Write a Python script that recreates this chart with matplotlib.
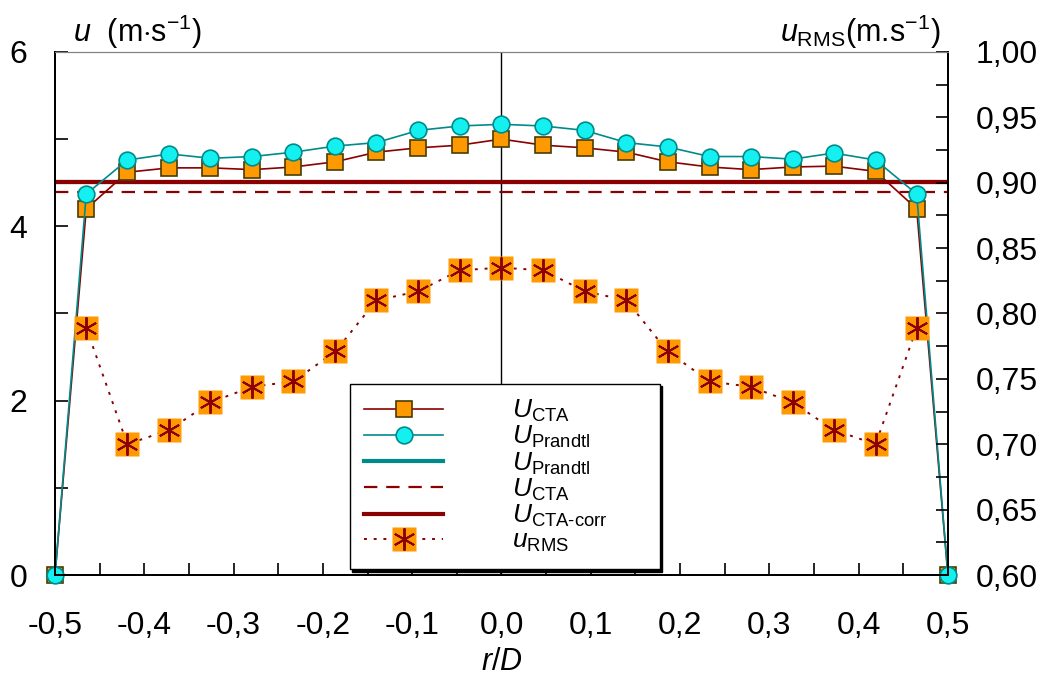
import matplotlib
matplotlib.use("Agg")
import matplotlib.pyplot as plt
from matplotlib.ticker import MultipleLocator, FuncFormatter
from matplotlib.lines import Line2D
from matplotlib.legend_handler import HandlerTuple

# Radial positions r/D of the traverse
r_d = [-0.500, -0.465, -0.419, -0.372, -0.326, -0.279, -0.233, -0.186, -0.140, -0.093, -0.047,
       0.000, 0.047, 0.093, 0.140, 0.186, 0.233, 0.279, 0.326, 0.372, 0.419, 0.465, 0.500]

# Mean velocity, hot-wire (CTA) and Prandtl tube, m/s
u_cta = [0.00, 4.20, 4.62, 4.67, 4.67, 4.65, 4.68, 4.74, 4.85, 4.90, 4.93,
         5.00, 4.93, 4.90, 4.85, 4.74, 4.68, 4.65, 4.68, 4.69, 4.63, 4.20, 0.00]
u_prandtl = [0.00, 4.37, 4.76, 4.83, 4.78, 4.80, 4.85, 4.92, 4.96, 5.10, 5.15,
             5.17, 5.15, 5.10, 4.96, 4.91, 4.80, 4.80, 4.77, 4.84, 4.76, 4.37, 0.00]

# Bulk (section-averaged) velocities, m/s
u_prandtl_mean = 4.51
u_cta_mean = 4.39
u_cta_corr_mean = 4.51

# RMS fluctuation (right axis), m/s
r_rms = r_d[1:-1]
u_rms = [0.789, 0.700, 0.711, 0.732, 0.744, 0.748, 0.771, 0.810, 0.817, 0.833,
         0.835, 0.833, 0.817, 0.810, 0.771, 0.748, 0.744, 0.732, 0.711, 0.700, 0.789]

DARK_RED = "#8b0000"
TEAL = "#008b8b"
ORANGE = "#ff9900"
CYAN = "#14f0f0"

plt.rcParams.update({
    "font.family": ["Liberation Sans", "DejaVu Sans"],
    "mathtext.fontset": "custom",
    "mathtext.rm": "Liberation Sans",
    "mathtext.it": "Liberation Sans:italic",
    "mathtext.bf": "Liberation Sans:bold",
})

fig = plt.figure(figsize=(10.48, 6.75), dpi=100)
ax = fig.add_axes([0.0525, 0.1481, 0.852, 0.775])
ax2 = ax.twinx()

ax.axvline(0.0, color="black", lw=1.0, zorder=1)

# Horizontal bulk-velocity lines
ax.axhline(u_prandtl_mean, color=TEAL, lw=3.0, zorder=2)
ax.axhline(u_cta_corr_mean, color=DARK_RED, lw=3.0, zorder=2.1)
ax.axhline(u_cta_mean, color=DARK_RED, lw=1.6, ls=(0, (6, 4)), zorder=2.1)

# Profiles
ax.plot(r_d, u_cta, color=DARK_RED, lw=1.2, marker="s", ms=12, mfc=ORANGE,
        mec="#4a3c00", mew=1.2, zorder=4, clip_on=False)
ax.plot(r_d, u_prandtl, color=TEAL, lw=1.2, marker="o", ms=12, mfc=CYAN,
        mec=TEAL, mew=1.2, zorder=5, clip_on=False)

# RMS on the secondary axis
ax2.plot(r_rms, u_rms, color=DARK_RED, lw=1.4, ls=(0, (1.5, 3.5)), zorder=3)
ax2.plot(r_rms, u_rms, ls="none", marker="s", ms=17, mfc=ORANGE, mec="none", zorder=4)
ax2.plot(r_rms, u_rms, ls="none", marker=(6, 2, 0), ms=16, mec=DARK_RED, mew=1.4, zorder=5)

ax.set_xlim(-0.5, 0.5)
ax.set_ylim(0, 6)
ax2.set_ylim(0.60, 1.00)

ax.xaxis.set_major_locator(MultipleLocator(0.1))
ax.xaxis.set_minor_locator(MultipleLocator(0.05))
ax.yaxis.set_major_locator(MultipleLocator(2))
ax.yaxis.set_minor_locator(MultipleLocator(1))
ax2.yaxis.set_major_locator(MultipleLocator(0.05))
ax2.yaxis.set_minor_locator(MultipleLocator(0.025))

ax.xaxis.set_major_formatter(FuncFormatter(lambda v, p: f"{v:.1f}".replace(".", ",").replace("-0,0", "0,0")))
ax.yaxis.set_major_formatter(FuncFormatter(lambda v, p: f"{v:.0f}"))
ax2.yaxis.set_major_formatter(FuncFormatter(lambda v, p: f"{v:.2f}".replace(".", ",")))

for a in (ax, ax2):
    a.tick_params(which="both", direction="in", length=9, width=1.2, labelsize=23, pad=20)
ax.tick_params(axis="x", which="both", top=False, pad=26)
ax.tick_params(axis="y", which="both", right=False)

for a in (ax, ax2):
    a.spines["top"].set_color("#808080")
    for s in ("left", "right", "bottom"):
        a.spines[s].set_linewidth(1.4)

ax.set_xlabel("$r/D$", fontsize=22, labelpad=4)

fig.text(0.070, 0.938, r"$u$  (m$\cdot$s$^{-1}$)", fontsize=22, ha="left", va="baseline")
fig.text(0.897, 0.938, r"$u_{\mathrm{RMS}}$(m.s$^{-1}$)", fontsize=22, ha="right", va="baseline")

# Legend
h_cta = Line2D([], [], color=DARK_RED, lw=1.2, marker="s", ms=12, mfc=ORANGE, mec="#4a3c00", mew=1.2)
h_pr = Line2D([], [], color=TEAL, lw=1.2, marker="o", ms=12, mfc=CYAN, mec=TEAL, mew=1.2)
h_pr_mean = Line2D([], [], color=TEAL, lw=3.0)
h_cta_mean = Line2D([], [], color=DARK_RED, lw=1.6, ls=(0, (6, 4)))
h_corr = Line2D([], [], color=DARK_RED, lw=3.0)
h_rms_line = Line2D([], [], color=DARK_RED, lw=1.4, ls=(0, (1.5, 3.5)), marker="s", ms=17,
                    mfc=ORANGE, mec="none")
h_rms_star = Line2D([], [], ls="none", marker=(6, 2, 0), ms=16, mec=DARK_RED, mew=1.4)

leg = ax.legend(
    [h_cta, h_pr, h_pr_mean, h_cta_mean, h_corr, (h_rms_line, h_rms_star)],
    [r"$U_{\mathrm{CTA}}$", r"$U_{\mathrm{Prandtl}}$", r"$U_{\mathrm{Prandtl}}$",
     r"$U_{\mathrm{CTA}}$", r"$U_{\mathrm{CTA\text{-}corr}}$", r"$u_{\mathrm{RMS}}$"],
    handler_map={tuple: HandlerTuple(ndivide=1)},
    loc="lower left", bbox_to_anchor=(0.330, 0.012, 0.347, 0.37), mode="expand",
    fontsize=19, frameon=True, fancybox=False, edgecolor="black", framealpha=1,
    shadow={"color": "black", "alpha": 1.0},
    handlelength=3.0, handletextpad=2.6, labelspacing=0.0, borderpad=0.55,
    borderaxespad=0,
)
leg.get_frame().set_linewidth(1.0)
leg.set_zorder(10)

fig.savefig("out.png", dpi=100)
